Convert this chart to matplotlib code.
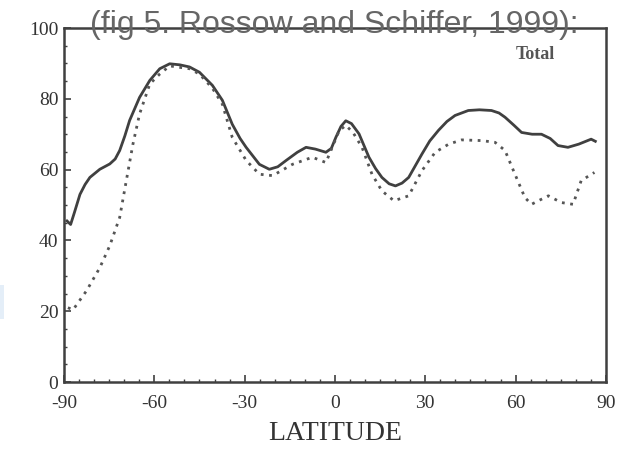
import matplotlib.pyplot as plt
from matplotlib.patches import Rectangle
from matplotlib.ticker import MultipleLocator

# solid curve (total cloud amount)
lat_solid = [-89, -87.8, -86.5, -84.7, -83, -81.4, -78.1, -74.8, -73, -71.5, -69.8, -68.2,
             -64.9, -61.5, -58.2, -54.9, -51.5, -48.3, -45, -40.7, -37.4, -34.1, -31.5,
             -29.5, -25.1, -21.8, -19, -16.2, -12.5, -9.6, -6.5, -3.0, -1.2, 0.3, 2, 3.6,
             5.5, 8.0, 11.3, 13.5, 15.6, 18, 20.1, 22.3, 24.5, 28.9, 31.5, 34.4, 37.2,
             39.9, 44.3, 48, 52.0, 54.5, 56.5, 59.5, 62.0, 65.5, 68.6, 71.5, 74.1, 77.4,
             81, 85.1, 86.5]
val_solid = [45.5, 44.5, 48, 53, 55.8, 57.8, 60.1, 61.6, 63, 65.4, 69.5, 73.9,
             80.4, 85.2, 88.5, 89.9, 89.6, 89, 87.5, 83.8, 79.6, 72.8, 68.8,
             66.3, 61.5, 60.1, 60.8, 62.6, 64.9, 66.3, 65.8, 64.9, 66, 69.1, 72.2, 73.8,
             73, 70.1, 63.5, 60.3, 57.8, 56, 55.4, 56.2, 57.8, 64.4, 68.1, 71.1, 73.6,
             75.3, 76.7, 76.9, 76.7, 76, 74.8, 72.5, 70.5, 70, 70, 68.8, 66.8, 66.3,
             67.2, 68.6, 68]

# dotted curve
lat_dot = [-88.7, -87, -82.5, -78.1, -74.8, -71.5, -69.3, -67.1, -64.9, -61.5, -58.2,
           -54.9, -48.3, -45, -40.7, -37.4, -34.1, -29.5, -25.1, -20.7, -14.1, -7.5,
           -3.0, 1.4, 3.6, 6, 9.0, 12.3, 15.6, 19.6, 24.5, 28.9, 33.3, 37.8, 42.1, 48.8,
           53.2, 56.5, 59.8, 63.1, 65.3, 67.8, 70.9, 75.2, 79.1, 81.8, 86.2]
val_dot = [21, 20.4, 25.8, 32.3, 38.5, 46.5, 56.9, 67.2, 75.7, 84.2, 87,
           89.3, 88.5, 87, 83, 78.5, 69.1, 62.6, 58.7, 58.3, 61.5, 63.5,
           62.0, 71.0, 72.5, 70.5, 66.3, 58.7, 54, 51.2, 52.6, 59.7, 64.9, 67.2, 68.4, 68.2,
           67.7, 65.4, 58.7, 52.1, 50.2, 51.3, 52.6, 50.7, 50.2, 56.9, 59.2]

xticks = [-90, -60, -30, 0, 30, 60, 90]
xticklabels = ['-90', '-60', '-30', '0', '30', '60', '90']
yticks = [0, 20, 40, 60, 80, 100]

ink = '#404040'
serif = 'Liberation Serif'

fig = plt.figure(figsize=(6.25, 4.55), dpi=100)
ax = fig.add_axes([0.1024, 0.1604, 0.867, 0.778])

ax.plot(lat_solid, val_solid, color=ink, lw=2)
ax.plot(lat_dot, val_dot, color='#555555', lw=2, linestyle=(0, (1, 2)))

ax.set_xlim(-90, 90)
ax.set_ylim(0, 100)
ax.set_xticks(xticks)
ax.set_xticklabels(xticklabels)
ax.set_yticks(yticks)
ax.xaxis.set_minor_locator(MultipleLocator(5))
ax.yaxis.set_minor_locator(MultipleLocator(5))
ax.tick_params(which='major', direction='in', length=5, width=1.2, color=ink,
               labelsize=14, labelcolor='#333333')
ax.tick_params(axis='x', which='major', pad=9)
ax.tick_params(axis='y', which='major', pad=4)
ax.tick_params(which='minor', direction='in', length=2.5, width=1, color=ink)
for lab in ax.get_xticklabels() + ax.get_yticklabels():
    lab.set_fontfamily(serif)
for sp in ax.spines.values():
    sp.set_color(ink)
    sp.set_linewidth(1.8)

ax.set_xlabel('LATITUDE', fontfamily=serif, fontsize=20, color='#333333', labelpad=7)
ax.text(0.87, 0.925, 'Total', transform=ax.transAxes, fontfamily=serif, fontsize=13,
        fontweight='bold', color='#555555', ha='center', va='center')

fig.text(0.535, 0.9275, '(fig 5. Rossow and Schiffer, 1999):', fontfamily='Liberation Sans',
         fontsize=23, color='#666666', ha='center', va='baseline')

fig.patches.append(Rectangle((0, 0.3), 0.0064, 0.073, transform=fig.transFigure,
                             facecolor='#e4eef8', edgecolor='none'))

fig.savefig('out.png', dpi=100)
